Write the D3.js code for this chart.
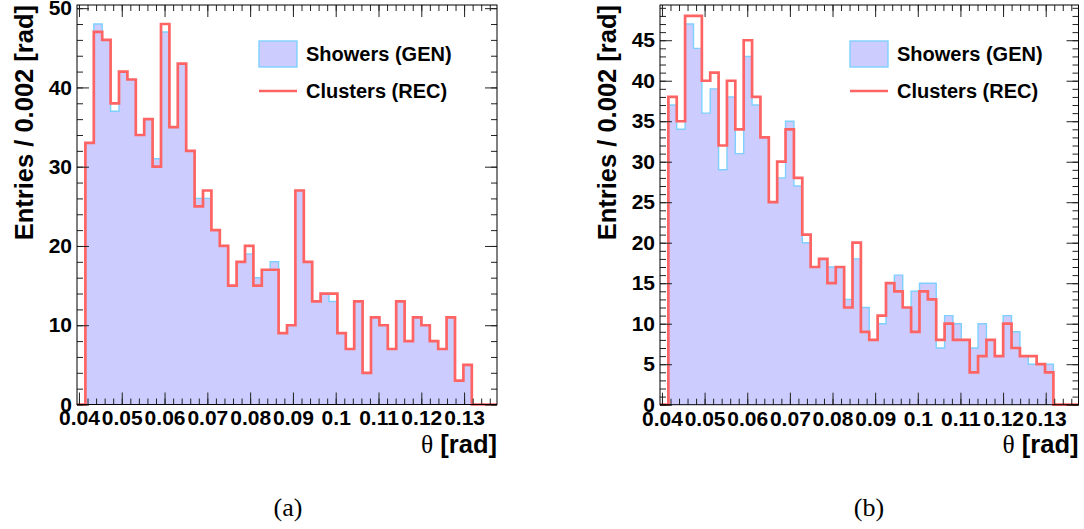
<!DOCTYPE html>
<html><head><meta charset="utf-8">
<script src="https://cdn.jsdelivr.net/npm/d3@7"></script>
<style>body{margin:0;background:#fff}</style>
</head><body><svg id="c" width="1084" height="529"></svg>
<script>
// ---- data ----
const thetaMin = 0.03954;      // histogram lower edge [rad]
const binWidth = 0.001963;     // bin width [rad]
const nBins = 50;
// entries per bin (bins 1..46 filled, leading/trailing empty bins)
const showersGenA  = [0,33,48,46,37,42,41,34,36,31,47,35,43,32,26,26,22,20,15,18,19,16,17,18,9,10,27,18,13,14,13,9,7,13,4,11,10,7,13,8,11,10,8,7,11,3,5,0,0,0];
const clustersRecA = [0,33,47,46,38,42,41,34,36,30,48,35,43,32,25,27,22,20,15,18,20,15,17,17,9,10,27,18,13,14,14,9,7,13,4,11,10,7,13,8,11,10,8,7,11,3,5,0,0,0];
const showersGenB  = [0,37,34,47,44,36,39,29,38,31,43,37,33,25,28,35,27,20,17,18,17,17,13,18,12,8,10,15,16,12,14,15,15,7,11,10,8,7,10,8,6,11,9,6,5,5,5,0,0,0];
const clustersRecB = [0,38,35,48,48,40,41,32,40,34,45,38,33,25,30,34,28,21,17,18,15,17,12,20,9,8,11,15,14,12,9,14,13,8,10,8,8,4,6,8,6,10,7,6,6,5,4,0,0,0];
const xTickLabels = ["0.04","0.05","0.06","0.07","0.08","0.09","0.1","0.11","0.12","0.13"];
const yTickLabelsA = ["0","10","20","30","40","50"];
const yTickLabelsB = ["0","5","10","15","20","25","30","35","40","45"];
const seriesNames = ["Showers (GEN)","Clusters (REC)"];
const xTitle = "θ [rad]";
const yTitle = "Entries / 0.002 [rad]";
const captions = ["(a)","(b)"];

// ---- drawing ----
const svg = d3.select("#c");
svg.append("rect").attr("width",1084).attr("height",529).attr("fill","#fff");
const FONT = "'Liberation Sans', Arial, Helvetica, sans-serif";
const FILL = "#ccccff", OUTLINE = "#7fd0ff", RED = "#ff6464";

function panel(cfg){
  const {left,right,top,bottom,gen,rec,yLabels,yMinor,caption,capX,legX} = cfg;
  const g = svg.append("g");
  const xMax = thetaMin + nBins*binWidth;
  const x = d3.scaleLinear().domain([thetaMin,xMax]).range([left,right]);
  const yMaxVal = 1.05*d3.max(gen);
  const y = d3.scaleLinear().domain([0,yMaxVal]).range([bottom,top]);
  const edges = d3.range(nBins+1).map(i=>thetaMin+i*binWidth);
  const pts = (arr)=>edges.map((e,i)=>[e, arr[Math.min(i,nBins-1)]]);

  // GEN filled histogram
  const area = d3.area().x(d=>x(d[0])).y0(y(0)).y1(d=>y(d[1])).curve(d3.curveStepAfter);
  g.append("path").datum(pts(gen)).attr("d",area).attr("fill",FILL);
  const line = d3.line().x(d=>x(d[0])).y(d=>y(d[1])).curve(d3.curveStepAfter);
  g.append("path").datum(pts(gen)).attr("d",line).attr("fill","none")
    .attr("stroke",OUTLINE).attr("stroke-width",1.4);
  // REC line histogram
  g.append("path").datum(pts(rec)).attr("d",line).attr("fill","none")
    .attr("stroke",RED).attr("stroke-width",2.7).attr("stroke-linejoin","miter");

  // axes
  const xVals = xTickLabels.map(Number);
  const xMinorVals = d3.range(0.04-0.002*5, xMax+1e-9, 0.002).filter(v=>v>=thetaMin && v<=xMax);
  const yVals = yLabels.map(Number);
  const yMinorVals = d3.range(0, yMaxVal, yMinor);
  const style = (sel)=>{
    sel.select(".domain").remove();
    sel.selectAll("line").attr("stroke","#222").attr("stroke-width",1);
    sel.selectAll("text").attr("font-family",FONT).attr("font-weight","bold")
      .attr("font-size",21).attr("fill","#000");
  };
  const fmtMap = new Map(xTickLabels.map(s=>[Number(s),s]));
  g.append("g").attr("transform",`translate(0,${bottom})`)
    .call(d3.axisBottom(x).tickValues(xMinorVals).tickSize(-6).tickFormat("")).call(style);
  g.append("g").attr("transform",`translate(0,${bottom})`)
    .call(d3.axisBottom(x).tickValues(xVals).tickSize(-12).tickPadding(6)
      .tickFormat(v=>fmtMap.get(v))).call(style);
  g.append("g").attr("transform",`translate(0,${top})`)
    .call(d3.axisTop(x).tickValues(xMinorVals).tickSize(-6).tickFormat("")).call(style);
  g.append("g").attr("transform",`translate(0,${top})`)
    .call(d3.axisTop(x).tickValues(xVals).tickSize(-12).tickFormat("")).call(style);
  g.append("g").attr("transform",`translate(${left},0)`)
    .call(d3.axisLeft(y).tickValues(yMinorVals).tickSize(-6).tickFormat("")).call(style);
  g.append("g").attr("transform",`translate(${left},0)`)
    .call(d3.axisLeft(y).tickValues(yVals).tickSize(-12).tickPadding(5)
      .tickFormat((v,i)=>yLabels[i])).call(style);
  g.append("g").attr("transform",`translate(${right},0)`)
    .call(d3.axisRight(y).tickValues(yMinorVals).tickSize(-6).tickFormat("")).call(style);
  g.append("g").attr("transform",`translate(${right},0)`)
    .call(d3.axisRight(y).tickValues(yVals).tickSize(-12).tickFormat("")).call(style);

  // frame
  g.append("rect").attr("x",left).attr("y",top).attr("width",right-left).attr("height",bottom-top)
    .attr("fill","none").attr("stroke","#000").attr("stroke-width",1);

  // titles
  const tx = g.append("text").attr("x",right).attr("y",bottom+48).attr("text-anchor","end")
    .attr("font-family",FONT).attr("font-weight","bold").attr("font-size",25.5);
  tx.append("tspan").attr("font-family","'Liberation Serif','Times New Roman',serif").attr("font-weight","normal").text(xTitle.split(" ")[0]);
  tx.append("tspan").text(" "+xTitle.split(" ").slice(1).join(" "));
  g.append("text").attr("transform",`translate(${left-44},${top}) rotate(-90)`)
    .attr("text-anchor","end").attr("font-family",FONT).attr("font-weight","bold")
    .attr("font-size",25.5).text(yTitle);

  // legend
  g.append("rect").attr("x",legX).attr("y",41).attr("width",38).attr("height",26)
    .attr("fill",FILL).attr("stroke",OUTLINE).attr("stroke-width",1.4);
  g.append("text").attr("x",legX+47).attr("y",61).attr("font-family",FONT).attr("font-weight","bold")
    .attr("font-size",20).text(seriesNames[0]);
  g.append("line").attr("x1",legX).attr("x2",legX+38).attr("y1",91).attr("y2",91)
    .attr("stroke",RED).attr("stroke-width",2.7);
  g.append("text").attr("x",legX+47).attr("y",98).attr("font-family",FONT).attr("font-weight","bold")
    .attr("font-size",20).text(seriesNames[1]);

  // caption
  g.append("text").attr("x",capX).attr("y",516).attr("text-anchor","middle")
    .attr("font-family","'Liberation Serif','Times New Roman',serif").attr("font-size",26).text(caption);
}

panel({left:77,right:497,top:5,bottom:404.5,gen:showersGenA,rec:clustersRecA,
  yLabels:yTickLabelsA,yMinor:2,caption:captions[0],capX:288,legX:259});
panel({left:660,right:1078.5,top:5,bottom:404.7,gen:showersGenB,rec:clustersRecB,
  yLabels:yTickLabelsB,yMinor:1,caption:captions[1],capX:869,legX:850});
</script></body></html>
